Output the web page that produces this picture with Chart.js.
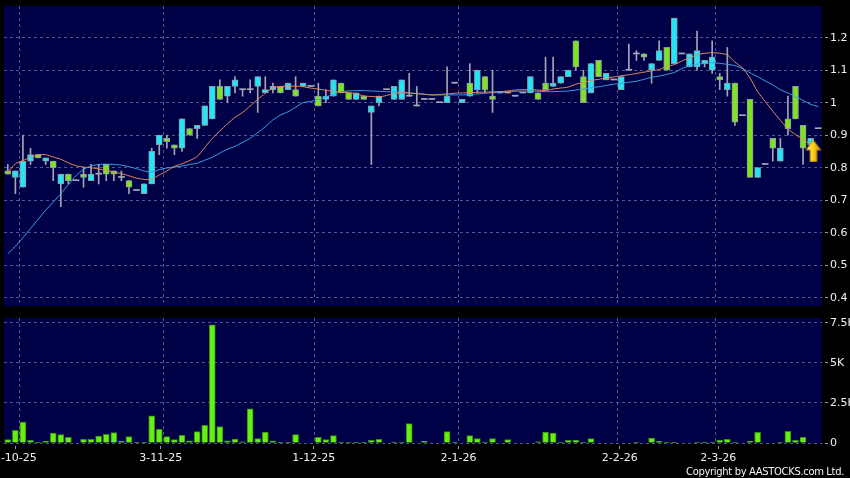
<!DOCTYPE html>
<html>
<head>
<meta charset="utf-8">
<script src="https://cdn.jsdelivr.net/npm/chart.js@4"></script>
<style>
  html, body { margin: 0; padding: 0; background: #000; }
  #wrap { position: relative; width: 850px; height: 478px; overflow: hidden; background: #000; }
  #price  { position: absolute; left: 0; top: 0; }
  #volume { position: absolute; left: 0; top: 312px; }
  #copy {
    position: absolute; right: 6px; top: 466px;
    font: 10px 'DejaVu Sans', sans-serif; line-height: 12px;
    letter-spacing: -0.35px; color: #f2f2f2; white-space: nowrap;
  }
</style>
</head>
<body>
<div id="wrap">
  <canvas id="price" width="850" height="310"></canvas>
  <canvas id="volume" width="850" height="166"></canvas>
  <div id="copy">Copyright by AASTOCKS.com Ltd.</div>
</div>
<script>
// ── Data (one entry per trading day) ────────────────────────────────
const OPEN = [
  0.79, 0.77, 0.74, 0.82, 0.84, 0.82, 0.82, 0.75, 0.78, 0.76,
  0.78, 0.76, 0.78, 0.81, 0.79, 0.77, 0.76, 0.73, 0.72, 0.75,
  0.87, 0.89, 0.87, 0.86, 0.92, 0.92, 0.93, 0.95, 1.05, 1.02,
  1.05, 1.04, 1.04, 1.05, 1.03, 1.04, 1.05, 1.04, 1.04, 1.05,
  1.05, 1.02, 1.01, 1.02, 1.06, 1.03, 1.01, 1.02, 0.97, 1.00,
  1.04, 1.01, 1.01, 1.02, 0.99, 1.01, 1.01, 1.00, 1.00, 1.06,
  1.00, 1.06, 1.04, 1.08, 1.02, 1.03, 1.03, 1.02, 1.03, 1.03,
  1.03, 1.06, 1.05, 1.06, 1.08, 1.19, 1.08, 1.03, 1.13, 1.07,
  1.07, 1.04, 1.10, 1.15, 1.15, 1.10, 1.13, 1.17, 1.12, 1.15,
  1.11, 1.11, 1.12, 1.10, 1.08, 1.04, 1.06, 0.96, 1.01, 0.77,
  0.81, 0.89, 0.82, 0.95, 1.05, 0.93, 0.87, 0.92,
];
const HIGH = [
  0.81, 0.79, 0.90, 0.86, 0.84, 0.83, 0.82, 0.78, 0.78, 0.76,
  0.80, 0.81, 0.81, 0.81, 0.79, 0.79, 0.76, 0.73, 0.75, 0.86,
  0.90, 0.90, 0.87, 0.95, 0.92, 0.93, 0.99, 1.05, 1.07, 1.05,
  1.08, 1.04, 1.07, 1.08, 1.08, 1.06, 1.05, 1.06, 1.08, 1.06,
  1.05, 1.06, 1.04, 1.07, 1.06, 1.03, 1.03, 1.02, 0.99, 1.02,
  1.04, 1.05, 1.07, 1.09, 1.05, 1.01, 1.01, 1.00, 1.11, 1.06,
  1.01, 1.12, 1.10, 1.08, 1.10, 1.03, 1.03, 1.02, 1.03, 1.08,
  1.03, 1.14, 1.14, 1.08, 1.10, 1.19, 1.10, 1.12, 1.13, 1.09,
  1.07, 1.08, 1.18, 1.16, 1.15, 1.12, 1.19, 1.17, 1.26, 1.15,
  1.15, 1.22, 1.13, 1.19, 1.09, 1.17, 1.06, 0.96, 1.01, 0.80,
  0.81, 0.89, 0.89, 1.02, 1.05, 0.93, 0.89, 0.92,
];
const LOW = [
  0.78, 0.72, 0.74, 0.81, 0.83, 0.81, 0.76, 0.68, 0.75, 0.76,
  0.74, 0.76, 0.75, 0.76, 0.76, 0.76, 0.72, 0.73, 0.72, 0.75,
  0.84, 0.86, 0.84, 0.85, 0.90, 0.89, 0.93, 0.95, 1.01, 1.00,
  1.03, 1.02, 1.03, 0.97, 1.03, 1.03, 1.03, 1.04, 1.02, 1.05,
  1.05, 0.99, 1.00, 1.02, 1.03, 1.01, 1.01, 1.01, 0.81, 0.99,
  1.04, 1.01, 1.01, 1.02, 0.99, 1.01, 1.01, 1.00, 1.00, 1.06,
  1.00, 1.02, 1.03, 1.03, 0.97, 1.03, 1.03, 1.02, 1.03, 1.03,
  1.01, 1.04, 1.05, 1.06, 1.08, 1.10, 1.00, 1.03, 1.08, 1.07,
  1.07, 1.04, 1.10, 1.13, 1.13, 1.06, 1.13, 1.10, 1.12, 1.15,
  1.11, 1.10, 1.11, 1.09, 1.04, 1.02, 0.93, 0.96, 0.77, 0.77,
  0.81, 0.82, 0.82, 0.90, 0.95, 0.81, 0.87, 0.92,
];
const CLOSE = [
  0.78, 0.79, 0.82, 0.84, 0.83, 0.83, 0.80, 0.78, 0.76, 0.76,
  0.77, 0.78, 0.78, 0.78, 0.78, 0.77, 0.74, 0.73, 0.75, 0.85,
  0.90, 0.88, 0.86, 0.95, 0.90, 0.93, 0.99, 1.05, 1.01, 1.05,
  1.07, 1.04, 1.04, 1.08, 1.04, 1.05, 1.03, 1.06, 1.02, 1.06,
  1.05, 0.99, 1.02, 1.07, 1.03, 1.01, 1.03, 1.01, 0.99, 1.02,
  1.04, 1.05, 1.07, 1.02, 0.99, 1.01, 1.01, 1.00, 1.02, 1.06,
  1.01, 1.02, 1.10, 1.04, 1.01, 1.03, 1.03, 1.02, 1.03, 1.08,
  1.01, 1.04, 1.06, 1.08, 1.10, 1.11, 1.00, 1.12, 1.08, 1.09,
  1.07, 1.08, 1.10, 1.15, 1.14, 1.12, 1.16, 1.10, 1.26, 1.15,
  1.15, 1.16, 1.13, 1.14, 1.07, 1.06, 0.94, 0.96, 0.77, 0.80,
  0.81, 0.86, 0.86, 0.92, 0.95, 0.86, 0.89, 0.92,
];
const VOLUME = [
  210, 790, 1310, 170, 40, 100, 620, 520, 350, 0,
  230, 230, 440, 540, 650, 100, 400, 40, 40, 1690,
  850, 400, 210, 480, 130, 710, 1100, 7380, 1020, 130,
  250, 80, 2130, 270, 690, 130, 20, 20, 520, 0,
  0, 350, 210, 460, 60, 20, 60, 20, 170, 230,
  0, 60, 60, 1210, 0, 100, 0, 0, 710, 60,
  0, 460, 270, 60, 270, 0, 210, 0, 0, 0,
  80, 690, 620, 60, 170, 190, 60, 270, 0, 0,
  0, 0, 0, 60, 0, 310, 100, 60, 40, 0,
  0, 60, 60, 60, 190, 230, 60, 0, 100, 670,
  0, 0, 60, 730, 170, 350, 0, 0,
];
// moving averages as drawn (orange = short, blue = long)
const MA_SHORT = [
  0.785, 0.812, 0.822, 0.832, 0.840, 0.840, 0.833, 0.826, 0.815, 0.806,
  0.802, 0.800, 0.796, 0.792, 0.786, 0.782, 0.775, 0.768, 0.764, 0.764,
  0.778, 0.790, 0.804, 0.812, 0.822, 0.834, 0.862, 0.890, 0.913, 0.935,
  0.955, 0.970, 0.990, 1.010, 1.029, 1.045, 1.050, 1.051, 1.051, 1.049,
  1.045, 1.042, 1.038, 1.035, 1.032, 1.031, 1.027, 1.021, 1.019, 1.018,
  1.022, 1.028, 1.031, 1.030, 1.028, 1.026, 1.024, 1.025, 1.027, 1.029,
  1.030, 1.031, 1.032, 1.033, 1.033, 1.034, 1.036, 1.039, 1.040, 1.040,
  1.039, 1.037, 1.042, 1.045, 1.048, 1.057, 1.062, 1.068, 1.072, 1.076,
  1.079, 1.083, 1.086, 1.090, 1.094, 1.098, 1.102, 1.112, 1.117, 1.128,
  1.138, 1.147, 1.152, 1.154, 1.152, 1.147, 1.125, 1.107, 1.076, 1.034,
  1.004, 0.974, 0.946, 0.919, 0.902, 0.887, 0.872, 0.862,
];
const MA_LONG = [
  0.535, 0.558, 0.585, 0.613, 0.641, 0.669, 0.694, 0.720, 0.748, 0.775,
  0.795, 0.805, 0.810, 0.811, 0.810, 0.808, 0.803, 0.797, 0.790, 0.786,
  0.794, 0.799, 0.802, 0.805, 0.810, 0.814, 0.823, 0.832, 0.845, 0.857,
  0.866, 0.878, 0.890, 0.908, 0.926, 0.947, 0.962, 0.972, 0.986, 1.000,
  1.004, 1.010, 1.018, 1.025, 1.034, 1.036, 1.037, 1.037, 1.036, 1.035,
  1.034, 1.033, 1.031, 1.030, 1.028, 1.026, 1.024, 1.024, 1.024, 1.024,
  1.024, 1.025, 1.027, 1.029, 1.031, 1.033, 1.034, 1.035, 1.036, 1.036,
  1.035, 1.034, 1.034, 1.035, 1.036, 1.039, 1.042, 1.046, 1.049, 1.053,
  1.057, 1.060, 1.063, 1.066, 1.072, 1.078, 1.082, 1.087, 1.093, 1.105,
  1.114, 1.118, 1.121, 1.123, 1.121, 1.118, 1.114, 1.105, 1.092, 1.080,
  1.067, 1.055, 1.040, 1.030, 1.019, 1.007, 0.995, 0.988,
];
const MARKED_DAY = 106;   // candle carrying the yellow arrow

const X_LABELS   = ['2-10-25', '3-11-25', '1-12-25', '2-1-26', '2-2-26', '2-3-26'];
const X_LABEL_AT = [1, 20.2, 40.4, 59.5, 80.8, 93.8];
const X_GRID_AT  = [1.5, 20.5, 40.5, 59.5, 80.5, 93.5];

const PRICE_TICKS       = [0.4, 0.5, 0.6, 0.7, 0.8, 0.9, 1.0, 1.1, 1.2];
const PRICE_TICK_LABELS = ['0.4', '0.5', '0.6', '0.7', '0.8', '0.9', '1', '1.1', '1.2'];
const VOL_TICKS         = [0, 2500, 5000, 7500];
const VOL_TICK_LABELS   = ['0', '2.5K', '5K', '7.5K'];

// ── Style ───────────────────────────────────────────────────────────
const NAVY   = '#000046';
const GRID   = '#55558a';
const TICK   = '#9a9aa6';
const LABEL  = '#f0f0f0';
const UP     = '#22e6f6';
const DOWN   = '#7fe322';
const FLAT   = '#a8a8b8';
const EDGE   = '#8c9aa4';
const WICK   = '#a4a4b4';
const VOL    = '#66f011';
const VOL_EDGE = '#3a8a12';

Chart.defaults.font.family = "'DejaVu Sans', sans-serif";
Chart.defaults.font.size = 11;

const N = CLOSE.length;
const IDX = CLOSE.map((_, i) => i);

const plotBg = {
  id: 'plotBg',
  beforeDraw(chart) {
    const { ctx, chartArea: a } = chart;
    ctx.save();
    ctx.fillStyle = NAVY;
    ctx.fillRect(a.left, a.top, a.width, a.height);
    ctx.restore();
  },
};

// index axes: bar charts default to offset:true, which shifts a linear axis
function gridAxis() {
  return {
    type: 'linear', min: -0.5, max: N - 0.5, offset: false, bounds: 'data',
    afterBuildTicks: s => { s.ticks = X_GRID_AT.map(v => ({ value: v })); },
    afterFit: s => { s.height = 0; s.paddingLeft = 0; s.paddingRight = 0; },
    ticks: { display: false },
    grid: { color: GRID, drawTicks: false, offset: false },
    border: { display: false, dash: [3, 3] },
  };
}

function valueAxis(min, max, values, labels) {
  return {
    type: 'linear', position: 'right', min, max, bounds: 'data',
    afterBuildTicks: s => { s.ticks = values.map(v => ({ value: v })); },
    afterFit: s => { s.width = 28; s.paddingTop = 0; s.paddingBottom = 0; },
    ticks: { callback: (v, i) => labels[i], color: LABEL, padding: 2, autoSkip: false },
    grid: { color: GRID, tickLength: 6, tickColor: TICK, tickBorderDash: [0, 3, 3] },
    border: { display: false, dash: [3, 3] },
  };
}

function makeArrow() {
  const c = document.createElement('canvas');
  c.width = 22; c.height = 48;
  const g = c.getContext('2d');
  const grad = g.createLinearGradient(6, 0, 21, 0);
  grad.addColorStop(0, '#fff7a8');
  grad.addColorStop(0.45, '#ffd41c');
  grad.addColorStop(1, '#d99200');
  g.beginPath();
  g.moveTo(13.4, 25.5);
  g.lineTo(21, 35.5);
  g.lineTo(17.1, 35.5);
  g.lineTo(17.1, 47.2);
  g.lineTo(10.4, 47.2);
  g.lineTo(10.4, 35.5);
  g.lineTo(6.4, 35.5);
  g.closePath();
  g.fillStyle = grad;
  g.fill();
  g.strokeStyle = '#c07d00';
  g.lineWidth = 1;
  g.stroke();
  return c;
}

// ── Price panel ─────────────────────────────────────────────────────
const bodyFill   = IDX.map(i => CLOSE[i] > OPEN[i] ? UP : CLOSE[i] < OPEN[i] ? DOWN : FLAT);
const bodyEdge   = IDX.map(i => CLOSE[i] === OPEN[i] ? FLAT : EDGE);
const bodyEdgeW  = IDX.map(i => CLOSE[i] === OPEN[i] ? 0 : 1);

new Chart(document.getElementById('price'), {
  type: 'bar',
  data: {
    datasets: [
      {
        type: 'scatter',
        data: [{ x: MARKED_DAY, y: CLOSE[MARKED_DAY] }],
        pointStyle: makeArrow(), pointRadius: 12, xAxisID: 'x', yAxisID: 'y',
      },
      {
        type: 'line',
        data: IDX.map(i => ({ x: i, y: MA_SHORT[i] })),
        borderColor: '#e58a5c', borderWidth: 1, pointRadius: 0, fill: false, tension: 0.2,
        xAxisID: 'x', yAxisID: 'y',
      },
      {
        type: 'line',
        data: IDX.map(i => ({ x: i, y: MA_LONG[i] })),
        borderColor: '#3aa2e6', borderWidth: 1, pointRadius: 0, fill: false, tension: 0.2,
        xAxisID: 'x', yAxisID: 'y',
      },
      {
        data: IDX.map(i => ({ x: i, y: [OPEN[i], CLOSE[i]] })),
        backgroundColor: bodyFill, borderColor: bodyEdge, borderWidth: bodyEdgeW,
        borderSkipped: false, barThickness: 6, minBarLength: 1, grouped: false,
        xAxisID: 'x', yAxisID: 'y',
      },
      {
        data: IDX.map(i => ({ x: i, y: [LOW[i], HIGH[i]] })),
        backgroundColor: WICK, borderWidth: 0, barThickness: 1, grouped: false,
        xAxisID: 'x', yAxisID: 'y',
      },
    ],
  },
  options: {
    responsive: false,
    animation: false,
    layout: { autoPadding: false, padding: { left: 4, top: 6, right: 0, bottom: 4 } },
    plugins: { legend: { display: false }, tooltip: { enabled: false } },
    scales: {
      x: gridAxis(),
      y: valueAxis(0.3745, 1.2975, PRICE_TICKS, PRICE_TICK_LABELS),
    },
  },
  plugins: [plotBg],
});

// ── Volume panel ────────────────────────────────────────────────────
new Chart(document.getElementById('volume'), {
  type: 'bar',
  data: {
    datasets: [{
      data: IDX.map(i => ({ x: i, y: VOLUME[i] })),
      backgroundColor: VOL, borderColor: VOL_EDGE, borderWidth: 1,
      borderSkipped: 'start', barThickness: 6, grouped: false,
      xAxisID: 'x', yAxisID: 'y',
    }],
  },
  options: {
    responsive: false,
    animation: false,
    layout: { autoPadding: false, padding: { left: 4, top: 6, right: 0, bottom: 0 } },
    plugins: { legend: { display: false }, tooltip: { enabled: false } },
    scales: {
      x: gridAxis(),
      x2: {
        type: 'linear', position: 'bottom', min: -0.5, max: N - 0.5, bounds: 'data', offset: false,
        afterBuildTicks: s => { s.ticks = X_LABEL_AT.map(v => ({ value: v })); },
        afterFit: s => { s.height = 35; s.paddingLeft = 0; s.paddingRight = 0; },
        ticks: { callback: (v, i) => X_LABELS[i], color: LABEL, padding: 3, autoSkip: false, maxRotation: 0 },
        grid: { drawOnChartArea: false, offset: false, tickLength: 6, tickColor: TICK, tickBorderDash: [0, 3, 3] },
        border: { display: false },
      },
      y: valueAxis(0, 7810, VOL_TICKS, VOL_TICK_LABELS),
    },
  },
  plugins: [plotBg],
});
</script>
</body>
</html>
